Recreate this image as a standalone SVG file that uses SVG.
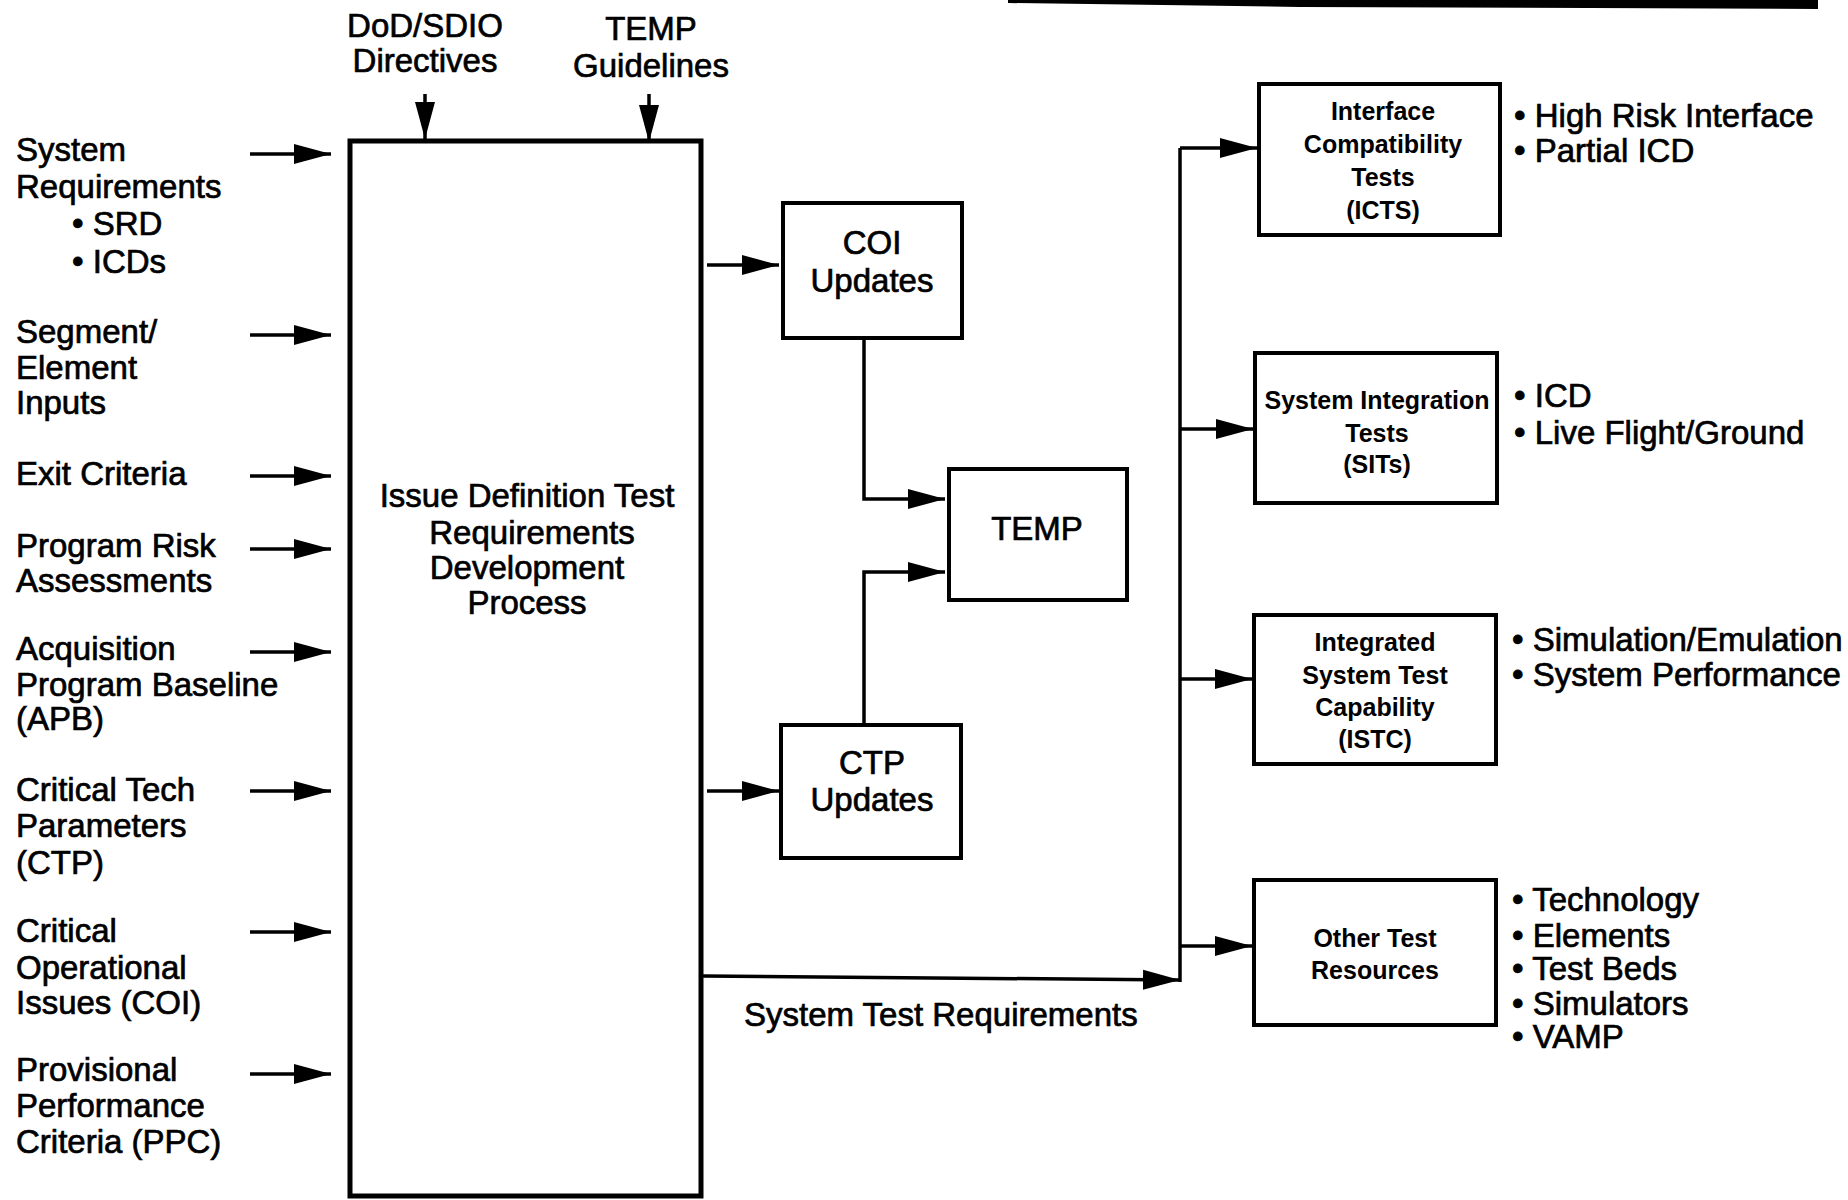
<svg xmlns="http://www.w3.org/2000/svg" width="1848" height="1200" viewBox="0 0 1848 1200">
<style>
.t{font-family:"Liberation Sans",Arial,Helvetica,sans-serif;font-size:33px;fill:#000;stroke:#000;stroke-width:0.7}
.s{font-family:"Liberation Sans",Arial,Helvetica,sans-serif;font-size:25px;font-weight:bold;fill:#000}
.m{text-anchor:middle}
.box{fill:#fff;stroke:#000;stroke-width:4}
.big{fill:#fff;stroke:#000;stroke-width:5}
.c{fill:none;stroke:#000;stroke-width:3.5}
</style>
<defs>
<marker id="ah" markerUnits="userSpaceOnUse" markerWidth="38" markerHeight="22" refX="37" refY="11" orient="auto">
<path d="M0,1 L37,11 L0,21 z" fill="#000"/>
</marker>
</defs>
<rect width="1848" height="1200" fill="#fff"/>
<polygon points="1008,0 1818,0 1818,9 1300,7 1008,3" fill="#000"/>

<g id="connectors">
<line class="c" x1="425" y1="94" x2="425" y2="139" marker-end="url(#ah)"/>
<line class="c" x1="649" y1="94" x2="649" y2="142" marker-end="url(#ah)"/>
<line class="c" x1="250" y1="154" x2="331" y2="154" marker-end="url(#ah)"/>
<line class="c" x1="250" y1="335" x2="331" y2="335" marker-end="url(#ah)"/>
<line class="c" x1="250" y1="476" x2="331" y2="476" marker-end="url(#ah)"/>
<line class="c" x1="250" y1="549" x2="331" y2="549" marker-end="url(#ah)"/>
<line class="c" x1="250" y1="652" x2="331" y2="652" marker-end="url(#ah)"/>
<line class="c" x1="250" y1="791" x2="331" y2="791" marker-end="url(#ah)"/>
<line class="c" x1="250" y1="932" x2="331" y2="932" marker-end="url(#ah)"/>
<line class="c" x1="250" y1="1074" x2="331" y2="1074" marker-end="url(#ah)"/>
<line class="c" x1="707" y1="265" x2="779" y2="265" marker-end="url(#ah)"/>
<line class="c" x1="707" y1="791" x2="779" y2="791" marker-end="url(#ah)"/>
<polyline class="c" points="864,338 864,499 945,499" marker-end="url(#ah)"/>
<polyline class="c" points="864,724 864,572 945,572" marker-end="url(#ah)"/>
<line class="c" x1="703" y1="976" x2="1180" y2="980" marker-end="url(#ah)"/>
<line class="c" x1="1180" y1="148" x2="1180" y2="982" stroke-width="4"/>
<line class="c" x1="1180" y1="148" x2="1257" y2="148" marker-end="url(#ah)"/>
<line class="c" x1="1180" y1="429" x2="1253" y2="429" marker-end="url(#ah)"/>
<line class="c" x1="1180" y1="679" x2="1252" y2="679" marker-end="url(#ah)"/>
<line class="c" x1="1180" y1="946" x2="1252" y2="946" marker-end="url(#ah)"/>
</g>

<g id="top-inputs">
<text class="t m" x="425" y="37">DoD/SDIO</text>
<text class="t m" x="425" y="72">Directives</text>
<text class="t m" x="651" y="40">TEMP</text>
<text class="t m" x="651" y="77">Guidelines</text>
</g>

<g id="left-inputs">
<text class="t" x="16" y="161">System</text>
<text class="t" x="16" y="198">Requirements</text>
<text class="t" x="72" y="235">• SRD</text>
<text class="t" x="72" y="273">• ICDs</text>
<text class="t" x="16" y="343">Segment/</text>
<text class="t" x="16" y="379">Element</text>
<text class="t" x="16" y="414">Inputs</text>
<text class="t" x="16" y="485">Exit Criteria</text>
<text class="t" x="16" y="557">Program Risk</text>
<text class="t" x="16" y="592">Assessments</text>
<text class="t" x="16" y="660">Acquisition</text>
<text class="t" x="16" y="696">Program Baseline</text>
<text class="t" x="16" y="730">(APB)</text>
<text class="t" x="16" y="801">Critical Tech</text>
<text class="t" x="16" y="837">Parameters</text>
<text class="t" x="16" y="874">(CTP)</text>
<text class="t" x="16" y="942">Critical</text>
<text class="t" x="16" y="979">Operational</text>
<text class="t" x="16" y="1014">Issues (COI)</text>
<text class="t" x="16" y="1081">Provisional</text>
<text class="t" x="16" y="1117">Performance</text>
<text class="t" x="16" y="1153">Criteria (PPC)</text>
</g>

<g id="main-process">
<rect class="big" x="350" y="141" width="351" height="1055"/>
<text class="t m" x="527" y="507">Issue Definition Test</text>
<text class="t m" x="532" y="544">Requirements</text>
<text class="t m" x="527" y="579">Development</text>
<text class="t m" x="527" y="614">Process</text>
</g>

<g id="coi-updates">
<rect class="box" x="783" y="203" width="179" height="135"/>
<text class="t m" x="872" y="254">COI</text>
<text class="t m" x="872" y="292">Updates</text>
</g>

<g id="temp">
<rect class="box" x="949" y="469" width="178" height="131"/>
<text class="t m" x="1037" y="540">TEMP</text>
</g>

<g id="ctp-updates">
<rect class="box" x="781" y="725" width="180" height="133"/>
<text class="t m" x="872" y="774">CTP</text>
<text class="t m" x="872" y="811">Updates</text>
</g>

<g id="str-label">
<text class="t" x="744" y="1026">System Test Requirements</text>
</g>

<g id="icts">
<rect class="box" x="1259" y="84" width="241" height="151"/>
<text class="s m" x="1383" y="120">Interface</text>
<text class="s m" x="1383" y="153">Compatibility</text>
<text class="s m" x="1383" y="186">Tests</text>
<text class="s m" x="1383" y="219">(ICTS)</text>
<text class="t" x="1514" y="127">• High Risk Interface</text>
<text class="t" x="1514" y="162">• Partial ICD</text>
</g>

<g id="sits">
<rect class="box" x="1255" y="353" width="242" height="150"/>
<text class="s m" x="1377" y="409">System Integration</text>
<text class="s m" x="1377" y="442">Tests</text>
<text class="s m" x="1377" y="473">(SITs)</text>
<text class="t" x="1514" y="407">• ICD</text>
<text class="t" x="1514" y="444">• Live Flight/Ground</text>
</g>

<g id="istc">
<rect class="box" x="1254" y="615" width="242" height="149"/>
<text class="s m" x="1375" y="651">Integrated</text>
<text class="s m" x="1375" y="684">System Test</text>
<text class="s m" x="1375" y="716">Capability</text>
<text class="s m" x="1375" y="748">(ISTC)</text>
<text class="t" x="1512" y="651">• Simulation/Emulation</text>
<text class="t" x="1512" y="686">• System Performance</text>
</g>

<g id="other">
<rect class="box" x="1254" y="880" width="242" height="145"/>
<text class="s m" x="1375" y="947">Other Test</text>
<text class="s m" x="1375" y="979">Resources</text>
<text class="t" x="1512" y="911">• Technology</text>
<text class="t" x="1512" y="947">• Elements</text>
<text class="t" x="1512" y="980">• Test Beds</text>
<text class="t" x="1512" y="1015">• Simulators</text>
<text class="t" x="1512" y="1048">• VAMP</text>
</g>
</svg>
